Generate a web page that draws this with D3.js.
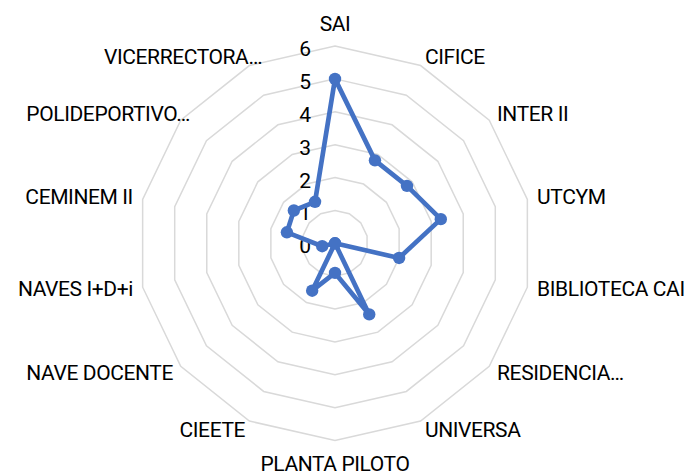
<!DOCTYPE html>
<html>
<head>
<meta charset="utf-8">
<script src="https://cdn.jsdelivr.net/npm/d3@7"></script>
<style>
  html, body { margin: 0; padding: 0; background: #fff; }
  svg text { font-family: "Liberation Sans Narrow", "Roboto", "Liberation Sans", sans-serif; }
</style>
</head>
<body>
<div id="chart"></div>
<script>
const categories = ["SAI", "CIFICE", "INTER II", "UTCYM", "BIBLIOTECA CAI", "RESIDENCIA…",
    "UNIVERSA", "PLANTA PILOTO", "CIEETE", "NAVE DOCENTE", "NAVES I+D+i", "CEMINEM II",
    "POLIDEPORTIVO…", "VICERRECTORA…"]
const values = [5, 2.8, 2.8, 3.3, 2, 0, 2.4, 0.9, 1.6, 0, 0.4, 1.5, 1.6, 1.4]
const ticks = [0, 1, 2, 3, 4, 5, 6]

const width = 689, height = 474
const cx = 335, cy = 243.3
const radius = 197.3
const blue = "#4472C4"

const svg = d3.select("#chart").append("svg")
    .attr("width", width)
    .attr("height", height)

const g = svg.append("g").attr("transform", `translate(${cx},${cy})`)

const r = d3.scaleLinear().domain([0, 6]).range([0, radius])
const angle = d3.scaleBand().domain(categories).range([0, 2 * Math.PI])

// grid rings
const ring = d3.lineRadial()
    .angle(d => angle(d))
    .curve(d3.curveLinearClosed)

g.append("g")
    .selectAll("path")
    .data(ticks.slice(1))
    .enter()
    .append("path")
    .attr("d", t => ring.radius(r(t))(categories))
    .attr("fill", "none")
    .attr("stroke", "#d9d9d9")
    .attr("stroke-width", 1.5)

// tick labels
g.append("g")
    .selectAll("text")
    .data(ticks)
    .enter()
    .append("text")
    .attr("x", -24)
    .attr("y", t => -r(t) + 3)
    .attr("text-anchor", "end")
    .attr("dominant-baseline", "central")
    .attr("font-size", 21)
    .attr("fill", "#000")
    .text(t => t)

// series
const series = d3.lineRadial()
    .angle((d, i) => angle(categories[i]))
    .radius(d => r(d))
    .curve(d3.curveLinearClosed)

g.append("path")
    .attr("d", series(values))
    .attr("fill", "none")
    .attr("stroke", blue)
    .attr("stroke-width", 4.7)
    .attr("stroke-linejoin", "round")

g.append("g")
    .selectAll("circle")
    .data(values)
    .enter()
    .append("circle")
    .attr("cx", (d, i) => r(d) * Math.sin(angle(categories[i])))
    .attr("cy", (d, i) => -r(d) * Math.cos(angle(categories[i])))
    .attr("r", 6.2)
    .attr("fill", blue)

// category labels
const labels = g.append("g")
    .selectAll("text")
    .data(categories)
    .enter()
    .append("text")
    .attr("font-size", 21)
    .attr("letter-spacing", -0.4)
    .attr("fill", "#000")
    .text(d => d)

labels.each(function (d) {
    const a = angle(d)
    const s = Math.sin(a), c = Math.cos(a)
    let x = (radius + 10) * s
    let y = -(radius + 10) * c
    const el = d3.select(this)
    if (Math.abs(s) < 0.01) {
        el.attr("text-anchor", "middle")
        y += c > 0 ? -5 : 20.5
    } else {
        el.attr("dominant-baseline", "central")
        if (s > 0) {
            el.attr("text-anchor", "start")
        } else {
            el.attr("text-anchor", "end")
            // truncated labels on the left sit a little further right
            if (d.endsWith("…")) x += 17
        }
    }
    el.attr("x", x).attr("y", y)
})
</script>
</body>
</html>
